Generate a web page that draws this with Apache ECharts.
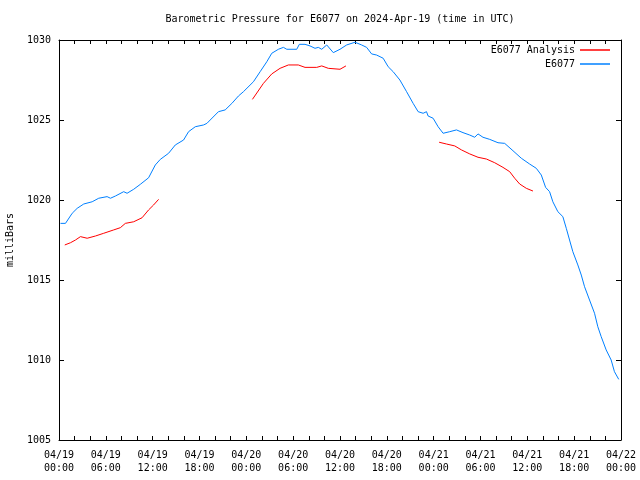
<!DOCTYPE html>
<html>
<head>
<meta charset="utf-8">
<script src="https://cdn.jsdelivr.net/npm/echarts@6/dist/echarts.min.js"></script>
<style>html,body{margin:0;padding:0;background:#fff}#c{width:640px;height:480px}</style>
</head>
<body>
<div id="c"></div>
<script>
// hours since 04/19 00:00 UTC
var obsHours = [0.19,0.83,1.69,2.33,3.17,4.25,5.09,6.16,6.59,7.23,8.29,8.72,9.57,10.42,11.48,12.34,12.98,14.04,14.9,15.96,16.6,17.46,18.52,18.95,19.37,20.43,21.29,22.15,22.99,23.63,24.91,25.77,26.62,27.26,28.11,28.75,29.18,30.46,30.79,31.52,32.16,32.8,33.22,33.66,34.3,35.14,36.0,36.85,37.92,38.77,39.41,40.05,40.69,41.53,42.17,42.81,43.67,44.53,45.37,46.01,46.65,47.08,47.29,47.93,48.57,49.21,50.06,50.92,51.76,52.62,53.26,53.68,54.32,55.18,56.24,57.1,58.16,59.23,60.29,61.15,61.79,62.34,62.85,63.27,63.91,64.55,64.99,65.41,65.83,66.47,66.91,67.33,67.97,68.61,69.03,69.46,70.1,70.74,71.16,71.71];
var obsPressure = [1018.54,1018.54,1019.17,1019.48,1019.75,1019.89,1020.11,1020.21,1020.11,1020.25,1020.52,1020.42,1020.67,1020.98,1021.39,1022.19,1022.54,1022.92,1023.44,1023.75,1024.27,1024.58,1024.69,1024.79,1025.0,1025.52,1025.63,1026.04,1026.5,1026.77,1027.39,1028.02,1028.64,1029.17,1029.42,1029.54,1029.42,1029.42,1029.73,1029.73,1029.63,1029.48,1029.54,1029.42,1029.69,1029.21,1029.42,1029.69,1029.86,1029.69,1029.54,1029.13,1029.06,1028.86,1028.33,1028.02,1027.5,1026.77,1026.04,1025.52,1025.42,1025.52,1025.25,1025.11,1024.58,1024.17,1024.27,1024.38,1024.21,1024.06,1023.92,1024.13,1023.92,1023.79,1023.58,1023.54,1023.08,1022.61,1022.25,1021.98,1021.56,1020.79,1020.52,1019.89,1019.27,1018.96,1018.23,1017.5,1016.77,1015.94,1015.31,1014.58,1013.75,1012.92,1012.08,1011.46,1010.63,1010.0,1009.27,1008.79];

var anaHours1 = [0.74,1.47,2.11,2.75,3.61,4.67,5.73,7.01,7.86,8.5,9.57,10.64,11.48,12.12,12.76];
var anaPressure1 = [1017.19,1017.33,1017.5,1017.71,1017.61,1017.75,1017.92,1018.13,1018.27,1018.54,1018.64,1018.89,1019.38,1019.69,1020.04];
var anaHours2 = [24.78,26.19,27.26,28.32,29.39,30.66,31.52,33.02,33.66,34.5,36.0,36.76];
var anaPressure2 = [1026.29,1027.29,1027.88,1028.23,1028.44,1028.44,1028.29,1028.29,1028.38,1028.23,1028.17,1028.38];
var anaHours3 = [48.7,49.64,50.7,51.56,52.62,53.68,54.76,55.82,56.88,57.74,58.38,59.02,59.87,60.72];
var anaPressure3 = [1023.61,1023.5,1023.38,1023.13,1022.88,1022.67,1022.56,1022.33,1022.04,1021.77,1021.36,1021.0,1020.73,1020.56];

var xTickLabels = ['04/19\n00:00','04/19\n06:00','04/19\n12:00','04/19\n18:00','04/20\n00:00','04/20\n06:00','04/20\n12:00','04/20\n18:00','04/21\n00:00','04/21\n06:00','04/21\n12:00','04/21\n18:00','04/22\n00:00'];

function zip(a, b) { return a.map(function (v, i) { return [v, b[i]]; }); }

var FONT = 'DejaVu Sans Mono';
var RED = '#ff0000', BLUE = '#0080ff';
var chart = echarts.init(document.getElementById('c'), null, {renderer: 'canvas'});

function xAx(pos, labels) {
  return {
    type: 'value', position: pos, min: 0, max: 72, interval: 2,
    axisLine: {show: true, onZero: false, lineStyle: {color: '#000', width: 1}},
    axisTick: {show: true, inside: true, length: 4, lineStyle: {color: '#000'}},
    splitLine: {show: false},
    axisLabel: {
      show: labels, margin: 9, color: '#000', fontFamily: FONT, fontSize: 10, lineHeight: 13,
      showMinLabel: true, showMaxLabel: true,
      formatter: function (v) { return (v % 6 === 0) ? xTickLabels[v / 6] : ''; }
    }
  };
}
function yAx(pos, labels) {
  return {
    type: 'value', position: pos, min: 1005, max: 1030, interval: 5,
    name: labels ? 'milliBars' : '', nameLocation: 'middle', nameGap: 44,
    nameTextStyle: {color: '#000', fontFamily: FONT, fontSize: 10},
    axisLine: {show: true, onZero: false, lineStyle: {color: '#000', width: 1}},
    axisTick: {show: true, inside: true, length: 5, lineStyle: {color: '#000'}},
    splitLine: {show: false},
    axisLabel: {show: labels, margin: 8, color: '#000', fontFamily: FONT, fontSize: 10,
      formatter: function (v) { return String(v); }}
  };
}

function line(name, data, color) {
  return {
    name: name, type: 'line', data: data, symbol: 'none', showSymbol: false,
    xAxisIndex: 0, yAxisIndex: 0, animation: false,
    lineStyle: {color: color, width: 1}, itemStyle: {color: color}
  };
}

chart.setOption({
  animation: false,
  backgroundColor: '#fff',
  title: {
    text: 'Barometric Pressure for E6077 on 2024-Apr-19 (time in UTC)',
    left: 340, textAlign: 'center', top: 14, padding: 0,
    textStyle: {color: '#000', fontFamily: FONT, fontSize: 10, fontWeight: 'normal'}
  },
  legend: {
    data: ['E6077 Analysis', 'E6077'],
    orient: 'vertical', align: 'right', right: 30, top: 44, padding: 0,
    itemGap: 2, itemWidth: 30, itemHeight: 1.5, icon: 'rect',
    textStyle: {color: '#000', fontFamily: FONT, fontSize: 10, lineHeight: 12}
  },
  grid: {left: 59, right: 19, top: 40, bottom: 40, containLabel: false, outerBoundsMode: 'none'},
  xAxis: [xAx('bottom', true), xAx('top', false)],
  yAxis: [yAx('left', true), yAx('right', false)],
  series: [
    line('E6077 Analysis', zip(anaHours1, anaPressure1), RED),
    line('E6077 Analysis', zip(anaHours2, anaPressure2), RED),
    line('E6077 Analysis', zip(anaHours3, anaPressure3), RED),
    line('E6077', zip(obsHours, obsPressure), BLUE)
  ]
});
</script>
</body>
</html>
